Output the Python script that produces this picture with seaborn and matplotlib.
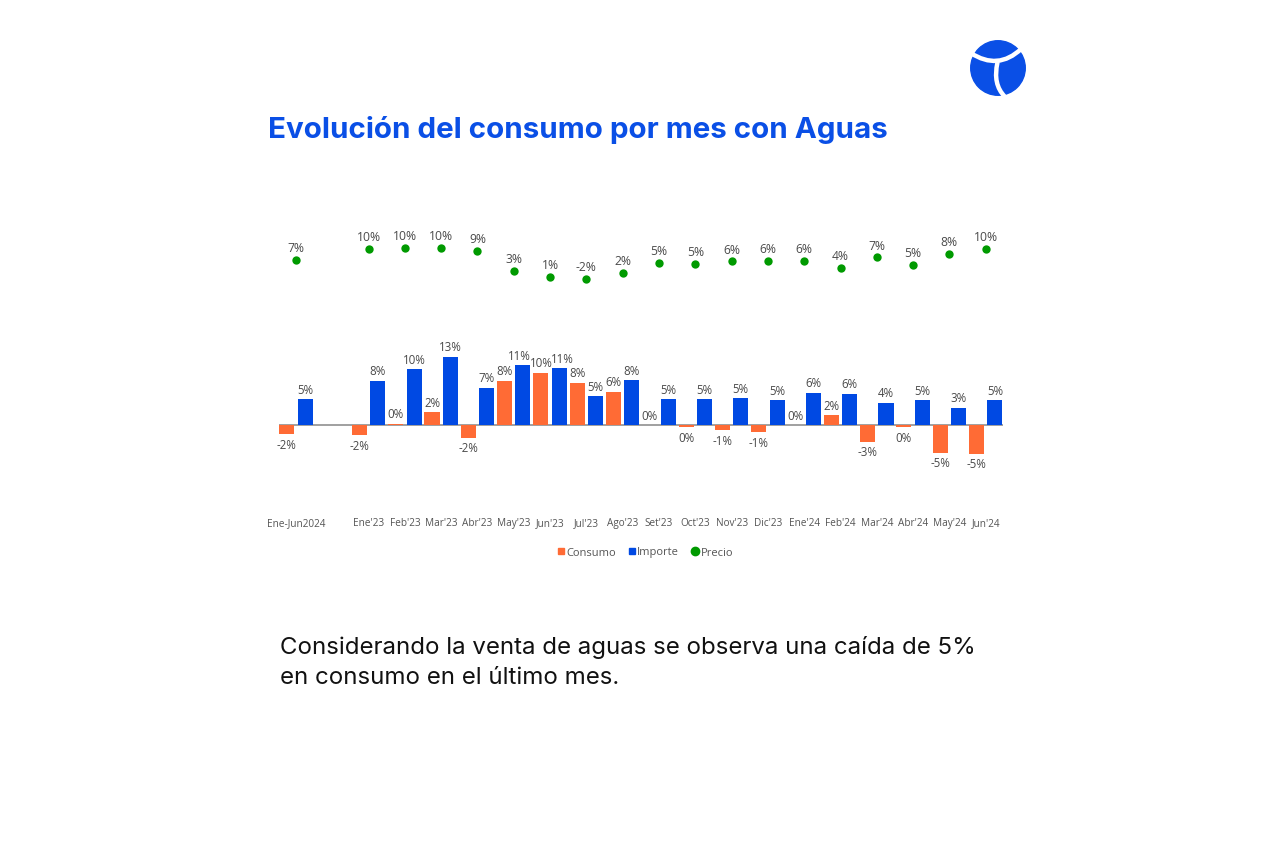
import numpy as np
import pandas as pd
import matplotlib
matplotlib.use("Agg")
import matplotlib.pyplot as plt
from matplotlib.lines import Line2D
from matplotlib.path import Path
from matplotlib.patches import Circle, PathPatch
import seaborn as sns

# ---------------- data ----------------
categories = ["Ene-Jun2024", " ", "Ene'23", "Feb'23", "Mar'23", "Abr'23", "May'23", "Jun'23",
              "Jul'23", "Ago'23", "Set'23", "Oct'23", "Nov'23", "Dic'23", "Ene'24",
              "Feb'24", "Mar'24", "Abr'24", "May'24", "Jun'24"]
months = [c for c in categories if c.strip()]
consumo = [-1.7, -1.9, 0.2, 2.4, -2.4, 8.3, 9.8, 7.9, 6.2, 0.0, -0.4, -1.0, -1.4,
           0.0, 1.8, -3.1, -0.4, -5.2, -5.4]
importe = [4.8, 8.3, 10.4, 12.8, 7.0, 11.2, 10.6, 5.4, 8.4, 4.8, 4.8, 5.0, 4.6,
           6.0, 5.8, 4.2, 4.6, 3.2, 4.6]
precio = [6.5, 9.9, 10.2, 10.2, 9.2, 3.0, 1.1, 0.5, 2.3, 5.4, 5.2, 6.0, 6.1,
          6.1, 3.9, 7.25, 4.9, 8.4, 9.9]
precio_labels = ["7%", "10%", "10%", "10%", "9%", "3%", "1%", "-2%", "2%", "5%", "5%",
                 "6%", "6%", "6%", "4%", "7%", "5%", "8%", "10%"]
series = ["Consumo", "Importe", "Precio"]

title = "Evolución del consumo por mes con Aguas"
note_lines = ["Considerando la venta de aguas se observa una caída de 5%",
              "en consumo en el último mes."]

# ---------------- style ----------------
ORANGE = "#FF6B35"
BLUE = "#0049E3"
GREEN = "#009A00"
TITLE_BLUE = "#0A4FE6"
LABEL = "#4A4A4A"

sns.set_style("white")
plt.rcParams["font.family"] = ["Open Sans", "DejaVu Sans"]

W, H = 1277, 853
fig = plt.figure(figsize=(W / 100, H / 100), dpi=100)
fig.patch.set_facecolor("white")

# main axes (pixel box)
left_px, right_px, top_px, bot_px = 278.9, 1002.8, 230, 475
ax = fig.add_axes([left_px / W, 1 - bot_px / H, (right_px - left_px) / W, (bot_px - top_px) / H])

df = pd.DataFrame({
    "Mes": months * 2,
    "Serie": ["Consumo"] * len(months) + ["Importe"] * len(months),
    "Valor": consumo + importe,
})

sns.barplot(data=df, x="Mes", y="Valor", hue="Serie", order=categories,
            hue_order=series[:2], palette=[ORANGE, BLUE], width=1.01, gap=0.18,
            saturation=1, errorbar=None, linewidth=0, legend=False, ax=ax)

crowded = {months.index("May'23"): -2.2, months.index("Jun'23"): 2.2}
for k, cont in enumerate(ax.containers):
    labels = []
    for b in cont:
        v = int(round(b.get_height()))
        labels.append(f"{v}%")
    anns = ax.bar_label(cont, labels=labels, padding=2.5, fontsize=8.3, color=LABEL)
    # nudge the crowded blue labels slightly apart
    if k == 1:
        for i, dx in crowded.items():
            ox, oy = anns[i].xyann
            anns[i].xyann = (ox + dx, oy)

ax.axhline(0, color="#A0A0A0", lw=1.4, zorder=0.5)

# precio on secondary axis
ax2 = ax.twinx()
xpos = [categories.index(m) for m in months]
sns.scatterplot(x=xpos, y=precio, ax=ax2, color=GREEN, s=36, linewidth=0, legend=False, zorder=3)
for x, y, lbl in zip(xpos, precio, precio_labels):
    ax2.annotate(lbl, (x, y), xytext=(0, 8.8), textcoords="offset points",
                 ha="center", va="center", fontsize=8.7, color=LABEL)

# scales: zero at y=426 px, 5.35 px per %; precio 10% at 249.5 px, 3.2 px per %
ax.set_ylim(-(bot_px - 426) / 5.35, (426 - top_px) / 5.35)
ax2.set_ylim(10 - (bot_px - 249.5) / 3.2, 10 + (249.5 - top_px) / 3.2)
ax.set_xlim(-0.47, 19.47)
ax2.set_xlim(-0.47, 19.47)

ax.set_xticks(range(len(categories)))
ax.set_xticklabels(categories)
ax.tick_params(axis="x", length=0, pad=31, labelsize=7.2, labelcolor="#555555")
ax.set_yticks([])
ax2.set_yticks([])
ax.set_xlabel("")
ax.set_ylabel("")
ax2.set_ylabel("")
for a in (ax, ax2):
    for s in a.spines.values():
        s.set_visible(False)
ax.patch.set_alpha(0)
ax2.patch.set_alpha(0)

# legend
handles = [
    Line2D([], [], marker="s", ls="", color=ORANGE, markersize=5),
    Line2D([], [], marker="s", ls="", color=BLUE, markersize=5),
    Line2D([], [], marker="o", ls="", color=GREEN, markersize=6),
]
fig.legend(handles, series, loc="center", bbox_to_anchor=(645 / W, 1 - 553 / H), ncol=3,
           frameon=False, handlelength=0.7, handletextpad=0.15, columnspacing=1.1,
           fontsize=8, labelcolor="#555555")

# title & note
fig.text(268 / W, 1 - 129.5 / H, title, ha="left", va="center", color=TITLE_BLUE,
         fontsize=21.3, fontweight="bold", family=["Inter", "DejaVu Sans"])
for i, line in enumerate(note_lines):
    fig.text(280 / W, 1 - (648 + 30 * i) / H, line, ha="left", va="center",
             color="#111111", fontsize=17.3, family=["Inter", "DejaVu Sans"])

# logo
lax = fig.add_axes([(998 - 30) / W, 1 - (69 + 30) / H, 60 / W, 60 / H])
lax.set_xlim(-1.1, 1.1)
lax.set_ylim(-1.1, 1.1)
lax.set_aspect("equal")
lax.axis("off")
lax.add_patch(Circle((0, 0), 1.0, color=TITLE_BLUE))
p1 = Path([(-1.0, 0.55), (0.0, -0.1), (0.85, 0.7)], [Path.MOVETO, Path.CURVE3, Path.CURVE3])
p2 = Path([(-0.02, 0.2), (-0.2, -0.6), (0.25, -1.05)], [Path.MOVETO, Path.CURVE3, Path.CURVE3])
for p in (p1, p2):
    lax.add_patch(PathPatch(p, fill=False, edgecolor="white", lw=3.2, capstyle="round"))

fig.savefig("out.png", dpi=100, facecolor="white")
